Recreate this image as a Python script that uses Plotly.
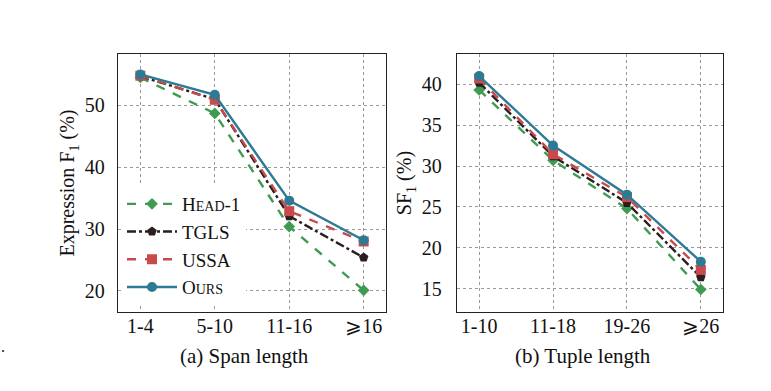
import plotly.graph_objects as go

span_cats = ["1-4", "5-10", "11-16", "⩾16"]
tuple_cats = ["1-10", "11-18", "19-26", "⩾26"]

series_names = ["HEAD-1", "TGLS", "USSA", "OURS"]
legend_labels = ["H<span style='font-size:14px'>EAD</span>-1", "TGLS", "USSA",
                 "O<span style='font-size:14px'>URS</span>"]

span_head1 = [54.5, 48.7, 30.4, 20.1]
span_tgls = [54.7, 51.0, 32.1, 25.4]
span_ussa = [54.8, 50.9, 32.9, 28.0]
span_ours = [55.0, 51.7, 34.6, 28.2]

tuple_head1 = [39.3, 30.7, 24.8, 14.9]
tuple_tgls = [40.2, 31.2, 25.5, 16.4]
tuple_ussa = [40.7, 31.45, 26.2, 17.3]
tuple_ours = [41.0, 32.5, 26.5, 18.3]

colors = ["#3f9b52", "#2a1e1e", "#c94a4b", "#2d7a94"]
dashes = ["dash", "dashdot", "dash", "solid"]
symbols = ["diamond", "pentagon", "square", "circle"]
msizes = [9, 10, 10, 10]

FONT = "Liberation Serif, DejaVu Serif, serif"

fig = go.Figure()
span_data = [span_head1, span_tgls, span_ussa, span_ours]
tuple_data = [tuple_head1, tuple_tgls, tuple_ussa, tuple_ours]

for i in range(4):
    fig.add_trace(go.Scatter(
        x=list(range(4)), y=span_data[i], mode="lines+markers",
        name=legend_labels[i], legendgroup=series_names[i],
        line=dict(color=colors[i], width=2.4, dash=dashes[i]),
        marker=dict(symbol=symbols[i], size=msizes[i], color=colors[i]),
        xaxis="x", yaxis="y", showlegend=True))
for i in range(4):
    fig.add_trace(go.Scatter(
        x=list(range(4)), y=tuple_data[i], mode="lines+markers",
        name=legend_labels[i], legendgroup=series_names[i],
        line=dict(color=colors[i], width=2.4, dash=dashes[i]),
        marker=dict(symbol=symbols[i], size=msizes[i], color=colors[i]),
        xaxis="x2", yaxis="y2", showlegend=False))

W, H = 771, 391
def px_x(p):
    return p / W
def px_y(p):
    return 1 - p / H

grid = dict(showgrid=True, gridcolor="#9a9a9a", griddash="dot", gridwidth=1,
            showline=True, linecolor="#222", linewidth=1.3, mirror=True,
            zeroline=False, ticks="", ticklen=0,
            tickfont=dict(family=FONT, size=20, color="#111"))

fig.update_layout(
    width=W, height=H, margin=dict(l=0, r=0, t=0, b=0),
    paper_bgcolor="white", plot_bgcolor="white",
    font=dict(family=FONT, color="#111"),
    xaxis=dict(domain=[px_x(118), px_x(386)], anchor="y", range=[-0.3, 3.3],
               tickvals=list(range(4)), ticktext=span_cats, ticklabelstandoff=-4, **grid),
    yaxis=dict(domain=[px_y(312), px_y(54)], anchor="x", range=[16.6, 58.3],
               tickvals=[20, 30, 40, 50], ticklabelstandoff=8,
               title=dict(text="Expression F<sub>1</sub> (%)", font=dict(family=FONT, size=20), standoff=4),
               **grid),
    xaxis2=dict(domain=[px_x(457), px_x(723)], anchor="y2", range=[-0.3, 3.3],
                tickvals=list(range(4)), ticktext=tuple_cats, ticklabelstandoff=-4, **grid),
    yaxis2=dict(domain=[px_y(312), px_y(54)], anchor="x2", range=[12.15, 43.7],
                tickvals=[15, 20, 25, 30, 35, 40], ticklabelstandoff=10,
                title=dict(text="SF<sub>1</sub> (%)", font=dict(family=FONT, size=20), standoff=4),
                **grid),
    legend=dict(x=px_x(122), y=px_y(185), xanchor="left", yanchor="top",
                bgcolor="white", borderwidth=0, font=dict(family=FONT, size=19, color="#111"),
                tracegroupgap=0, traceorder="grouped", itemwidth=50),
    annotations=[
        dict(text="(a) Span length", x=px_x(245), y=px_y(356), xref="paper", yref="paper",
             xanchor="center", yanchor="middle",
             showarrow=False, font=dict(family=FONT, size=21, color="#111")),
        dict(text="(b) Tuple length", x=px_x(583), y=px_y(356), xref="paper", yref="paper",
             xanchor="center", yanchor="middle",
             showarrow=False, font=dict(family=FONT, size=21, color="#111")),
        dict(text=".", x=px_x(3), y=px_y(346), xref="paper", yref="paper",
             xanchor="center", yanchor="middle",
             showarrow=False, font=dict(family=FONT, size=16, color="#111")),
    ],
)

fig.write_html("out.html", config={"displayModeBar": False},
               post_script="document.body.style.margin='0';document.body.style.overflow='hidden';")
